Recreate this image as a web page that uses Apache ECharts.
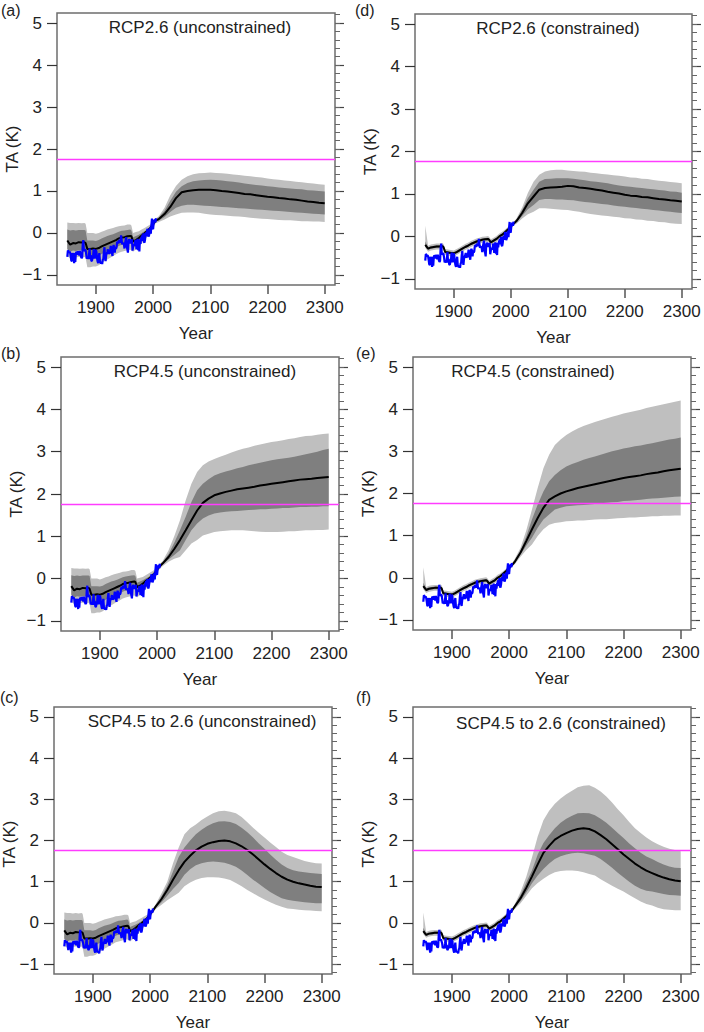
<!DOCTYPE html>
<html>
<head>
<meta charset="utf-8">
<title>TA projections</title>
<script src="https://cdn.jsdelivr.net/npm/echarts@6/dist/echarts.min.js"></script>
<style>
    html, body { margin: 0; padding: 0; background: #fff; }
    #main { width: 704px; height: 1032px; }
</style>
</head>
<body>
<div id="main"></div>
<script>
/* ---- data ---- */

/** observed record, one value per year from obsStart */
var obsStart = 1850;
var obsValues = [
    -0.57, -0.42, -0.43, -0.47, -0.45, -0.47, -0.56, -0.66, -0.67, -0.48,
    -0.54, -0.61, -0.72, -0.48, -0.69, -0.48, -0.45, -0.52, -0.44, -0.46,
    -0.48, -0.54, -0.43, -0.50, -0.57, -0.60, -0.58, -0.28, -0.17, -0.43,
    -0.43, -0.40, -0.41, -0.50, -0.61, -0.59, -0.57, -0.62, -0.51, -0.37,
    -0.62, -0.53, -0.66, -0.67, -0.61, -0.59, -0.39, -0.41, -0.61, -0.49,
    -0.40, -0.46, -0.60, -0.68, -0.72, -0.58, -0.48, -0.67, -0.71, -0.72,
    -0.69, -0.74, -0.64, -0.62, -0.44, -0.34, -0.58, -0.67, -0.53, -0.48,
    -0.45, -0.39, -0.50, -0.48, -0.49, -0.42, -0.31, -0.41, -0.41, -0.55,
    -0.34, -0.29, -0.34, -0.47, -0.33, -0.38, -0.35, -0.23, -0.21, -0.25,
    -0.19, -0.18, -0.23, -0.20, -0.06, -0.17, -0.27, -0.24, -0.24, -0.27,
    -0.37, -0.25, -0.17, -0.10, -0.33, -0.39, -0.47, -0.21, -0.15, -0.18,
    -0.25, -0.16, -0.19, -0.15, -0.42, -0.34, -0.27, -0.27, -0.31, -0.17,
    -0.23, -0.39, -0.27, -0.14, -0.41, -0.35, -0.44, -0.15, -0.26, -0.14,
    -0.11, -0.06, -0.19, -0.01, -0.21, -0.23, -0.15, -0.01, 0.00, -0.08,
    0.10, 0.05, -0.09, -0.05, 0.01, 0.13, -0.02, 0.19, 0.34, 0.11,
    0.09, 0.24, 0.30, 0.31, 0.25, 0.35
];

/** historical model period */
var histYears = [1850, 1855, 1860, 1865, 1870, 1875, 1880, 1882, 1885, 1890, 1895, 1900,
    1905, 1910, 1915, 1920, 1925, 1930, 1935, 1940, 1945, 1950, 1955, 1960, 1962, 1965,
    1970, 1975, 1980, 1985, 1990, 1995, 2000, 2005];

// unconstrained ensemble
var histUncMed  = [-0.18, -0.28, -0.24, -0.25, -0.22, -0.23, -0.22, -0.24, -0.38, -0.38, -0.37, -0.38, -0.36, -0.32, -0.29, -0.26, -0.23, -0.2, -0.17, -0.13, -0.11, -0.1, -0.08, -0.07, -0.08, -0.2, -0.17, -0.12, -0.06, -0.01, 0.05, 0.12, 0.21, 0.3];
var histUncHi90 = [0.25, 0.24, 0.24, 0.23, 0.24, 0.23, 0.24, 0.22, 0.0, 0.0, 0.0, -0.02, 0.0, 0.03, 0.05, 0.08, 0.1, 0.12, 0.14, 0.16, 0.17, 0.18, 0.2, 0.2, 0.18, 0.0, 0.02, 0.04, 0.08, 0.12, 0.16, 0.2, 0.27, 0.35];
var histUncHi66 = [0.08, 0.06, 0.07, 0.06, 0.07, 0.07, 0.07, 0.06, -0.18, -0.18, -0.18, -0.19, -0.17, -0.13, -0.1, -0.07, -0.05, -0.03, 0.0, 0.03, 0.05, 0.06, 0.07, 0.08, 0.06, -0.1, -0.07, -0.04, 0.0, 0.04, 0.08, 0.14, 0.23, 0.32];
var histUncLo66 = [-0.38, -0.45, -0.42, -0.43, -0.41, -0.42, -0.41, -0.43, -0.58, -0.58, -0.57, -0.58, -0.55, -0.5, -0.47, -0.44, -0.41, -0.38, -0.35, -0.31, -0.28, -0.27, -0.25, -0.23, -0.24, -0.34, -0.3, -0.25, -0.18, -0.11, -0.04, 0.04, 0.16, 0.27];
var histUncLo90 = [-0.55, -0.6, -0.58, -0.58, -0.57, -0.58, -0.57, -0.59, -0.82, -0.82, -0.8, -0.8, -0.77, -0.72, -0.67, -0.63, -0.59, -0.55, -0.51, -0.47, -0.45, -0.43, -0.41, -0.4, -0.41, -0.45, -0.39, -0.33, -0.25, -0.17, -0.09, 0.0, 0.13, 0.24];

// constrained ensemble
var histConMed  = [-0.2, -0.29, -0.26, -0.25, -0.24, -0.24, -0.23, -0.25, -0.37, -0.38, -0.39, -0.4, -0.37, -0.33, -0.29, -0.25, -0.22, -0.18, -0.15, -0.12, -0.1, -0.08, -0.07, -0.06, -0.08, -0.14, -0.1, -0.06, 0.0, 0.04, 0.1, 0.16, 0.23, 0.3];
var histConHi90 = [0.25, -0.22, -0.19, -0.18, -0.17, -0.17, -0.16, -0.18, -0.3, -0.31, -0.32, -0.33, -0.3, -0.26, -0.22, -0.18, -0.15, -0.11, -0.08, -0.05, -0.03, -0.01, 0.0, 0.01, -0.01, -0.07, -0.03, 0.01, 0.07, 0.11, 0.16, 0.22, 0.28, 0.34];
var histConHi66 = [-0.12, -0.26, -0.23, -0.22, -0.21, -0.21, -0.2, -0.22, -0.34, -0.35, -0.36, -0.37, -0.34, -0.3, -0.26, -0.22, -0.19, -0.15, -0.12, -0.09, -0.07, -0.05, -0.04, -0.03, -0.05, -0.11, -0.07, -0.03, 0.03, 0.07, 0.13, 0.19, 0.26, 0.32];
var histConLo66 = [-0.23, -0.32, -0.29, -0.28, -0.27, -0.27, -0.26, -0.28, -0.4, -0.41, -0.42, -0.43, -0.4, -0.36, -0.32, -0.28, -0.25, -0.21, -0.18, -0.15, -0.13, -0.11, -0.1, -0.09, -0.11, -0.17, -0.13, -0.09, -0.03, 0.01, 0.07, 0.13, 0.2, 0.28];
var histConLo90 = [-0.27, -0.36, -0.33, -0.32, -0.31, -0.31, -0.3, -0.32, -0.44, -0.45, -0.46, -0.47, -0.44, -0.4, -0.36, -0.32, -0.29, -0.25, -0.22, -0.19, -0.17, -0.15, -0.14, -0.13, -0.15, -0.21, -0.17, -0.13, -0.07, -0.03, 0.03, 0.09, 0.17, 0.26];

/** projection period */
var futYears = [2010, 2020, 2030, 2040, 2050, 2060, 2070, 2080, 2090, 2100,
    2110, 2120, 2130, 2140, 2150, 2160, 2170, 2180, 2190, 2200,
    2210, 2220, 2230, 2240, 2250, 2260, 2270, 2280, 2290, 2300];

// (a) RCP2.6 unconstrained
var aMed  = [0.33, 0.45, 0.62, 0.83, 0.97, 1.0, 1.02, 1.03, 1.03, 1.03, 1.02, 1.0, 0.99, 0.97, 0.95, 0.93, 0.92, 0.9, 0.88, 0.86, 0.85, 0.83, 0.82, 0.8, 0.79, 0.77, 0.75, 0.74, 0.72, 0.71];
var aHi90 = [0.4, 0.6, 0.9, 1.12, 1.27, 1.35, 1.4, 1.42, 1.43, 1.44, 1.43, 1.42, 1.41, 1.39, 1.38, 1.36, 1.35, 1.33, 1.32, 1.3, 1.28, 1.27, 1.25, 1.24, 1.22, 1.21, 1.19, 1.18, 1.16, 1.15];
var aHi66 = [0.37, 0.53, 0.77, 0.98, 1.11, 1.19, 1.23, 1.25, 1.26, 1.27, 1.26, 1.25, 1.23, 1.22, 1.2, 1.18, 1.16, 1.14, 1.13, 1.11, 1.1, 1.08, 1.07, 1.06, 1.05, 1.04, 1.02, 1.01, 1.0, 0.99];
var aLo66 = [0.29, 0.38, 0.5, 0.6, 0.65, 0.67, 0.67, 0.66, 0.65, 0.64, 0.63, 0.62, 0.61, 0.6, 0.59, 0.58, 0.57, 0.56, 0.55, 0.54, 0.53, 0.52, 0.51, 0.5, 0.49, 0.48, 0.47, 0.46, 0.45, 0.44];
var aLo90 = [0.26, 0.32, 0.39, 0.44, 0.48, 0.49, 0.49, 0.48, 0.46, 0.44, 0.43, 0.42, 0.41, 0.4, 0.39, 0.38, 0.36, 0.35, 0.34, 0.33, 0.32, 0.31, 0.3, 0.3, 0.29, 0.28, 0.28, 0.27, 0.27, 0.26];

// (b) RCP4.5 unconstrained
var bMed  = [0.36, 0.51, 0.7, 0.91, 1.14, 1.38, 1.61, 1.79, 1.89, 1.97, 2.01, 2.05, 2.08, 2.11, 2.13, 2.15, 2.17, 2.2, 2.22, 2.24, 2.26, 2.28, 2.3, 2.32, 2.34, 2.35, 2.36, 2.38, 2.39, 2.4];
var bHi90 = [0.42, 0.67, 1.0, 1.38, 1.85, 2.24, 2.52, 2.68, 2.77, 2.83, 2.88, 2.93, 2.98, 3.03, 3.07, 3.1, 3.14, 3.17, 3.2, 3.23, 3.25, 3.27, 3.3, 3.32, 3.35, 3.37, 3.38, 3.4, 3.42, 3.43];
var bHi66 = [0.39, 0.58, 0.85, 1.14, 1.46, 1.81, 2.09, 2.24, 2.35, 2.44, 2.49, 2.53, 2.57, 2.61, 2.64, 2.68, 2.71, 2.74, 2.77, 2.8, 2.82, 2.84, 2.86, 2.88, 2.91, 2.94, 2.97, 3.0, 3.04, 3.07];
var bLo66 = [0.33, 0.45, 0.56, 0.67, 0.91, 1.14, 1.3, 1.42, 1.49, 1.54, 1.56, 1.58, 1.59, 1.6, 1.61, 1.62, 1.63, 1.64, 1.64, 1.65, 1.66, 1.67, 1.67, 1.68, 1.69, 1.69, 1.7, 1.7, 1.71, 1.71];
var bLo90 = [0.3, 0.4, 0.47, 0.51, 0.67, 0.83, 0.91, 1.02, 1.06, 1.1, 1.12, 1.13, 1.14, 1.14, 1.14, 1.13, 1.12, 1.11, 1.1, 1.1, 1.1, 1.11, 1.12, 1.12, 1.13, 1.14, 1.14, 1.15, 1.15, 1.16];

// (c) SCP4.5 to 2.6 unconstrained
var cMed  = [0.4, 0.58, 0.8, 1.05, 1.28, 1.48, 1.63, 1.76, 1.85, 1.92, 1.96, 1.99, 2.0, 1.98, 1.93, 1.86, 1.77, 1.66, 1.54, 1.42, 1.31, 1.21, 1.12, 1.05, 1.0, 0.96, 0.93, 0.9, 0.88, 0.87];
var cHi90 = [0.46, 0.72, 1.0, 1.44, 1.83, 2.15, 2.3, 2.39, 2.5, 2.58, 2.66, 2.71, 2.72, 2.7, 2.66, 2.57, 2.44, 2.31, 2.19, 2.07, 1.95, 1.84, 1.73, 1.65, 1.6, 1.55, 1.5, 1.47, 1.45, 1.44];
var cHi66 = [0.43, 0.65, 0.9, 1.25, 1.6, 1.83, 2.0, 2.15, 2.26, 2.35, 2.42, 2.46, 2.47, 2.45, 2.4, 2.31, 2.2, 2.07, 1.93, 1.8, 1.66, 1.53, 1.42, 1.33, 1.28, 1.25, 1.23, 1.21, 1.2, 1.19];
var cLo66 = [0.37, 0.5, 0.66, 0.82, 0.97, 1.17, 1.3, 1.4, 1.45, 1.48, 1.49, 1.48, 1.46, 1.42, 1.36, 1.27, 1.16, 1.05, 0.95, 0.85, 0.75, 0.67, 0.6, 0.56, 0.54, 0.52, 0.5, 0.49, 0.48, 0.48];
var cLo90 = [0.34, 0.44, 0.55, 0.64, 0.73, 0.89, 0.98, 1.05, 1.09, 1.11, 1.11, 1.1, 1.08, 1.04, 0.97, 0.89, 0.8, 0.72, 0.64, 0.57, 0.5, 0.44, 0.39, 0.35, 0.34, 0.32, 0.31, 0.3, 0.29, 0.28];

// (d) RCP2.6 constrained
var dMed  = [0.36, 0.55, 0.78, 0.94, 1.1, 1.14, 1.15, 1.16, 1.17, 1.19, 1.18, 1.15, 1.14, 1.12, 1.1, 1.08, 1.05, 1.03, 1.01, 0.98, 0.96, 0.95, 0.93, 0.92, 0.9, 0.88, 0.87, 0.85, 0.84, 0.82];
var dHi90 = [0.42, 0.68, 1.02, 1.29, 1.45, 1.53, 1.56, 1.57, 1.57, 1.55, 1.54, 1.53, 1.52, 1.5, 1.49, 1.47, 1.46, 1.44, 1.43, 1.41, 1.39, 1.38, 1.36, 1.35, 1.33, 1.31, 1.3, 1.28, 1.27, 1.25];
var dHi66 = [0.39, 0.62, 0.9, 1.1, 1.29, 1.35, 1.36, 1.37, 1.37, 1.37, 1.36, 1.34, 1.32, 1.3, 1.29, 1.27, 1.25, 1.22, 1.2, 1.18, 1.17, 1.15, 1.14, 1.12, 1.11, 1.09, 1.08, 1.06, 1.05, 1.03];
var dLo66 = [0.33, 0.48, 0.64, 0.74, 0.86, 0.88, 0.88, 0.87, 0.87, 0.86, 0.85, 0.83, 0.81, 0.8, 0.78, 0.76, 0.75, 0.73, 0.71, 0.7, 0.68, 0.67, 0.65, 0.64, 0.62, 0.61, 0.59, 0.58, 0.56, 0.55];
var dLo90 = [0.3, 0.42, 0.52, 0.58, 0.66, 0.66, 0.65, 0.64, 0.63, 0.62, 0.6, 0.58, 0.55, 0.53, 0.51, 0.49, 0.48, 0.46, 0.45, 0.43, 0.42, 0.4, 0.39, 0.37, 0.36, 0.34, 0.33, 0.31, 0.3, 0.29];

// (e) RCP4.5 constrained
var eMed  = [0.38, 0.6, 0.87, 1.15, 1.42, 1.66, 1.85, 1.93, 2.0, 2.05, 2.09, 2.13, 2.16, 2.19, 2.22, 2.25, 2.28, 2.31, 2.34, 2.37, 2.39, 2.41, 2.43, 2.46, 2.48, 2.5, 2.53, 2.55, 2.57, 2.59];
var eHi90 = [0.45, 0.71, 1.12, 1.62, 2.13, 2.6, 2.92, 3.15, 3.28, 3.39, 3.47, 3.54, 3.6, 3.65, 3.7, 3.74, 3.78, 3.82, 3.86, 3.9, 3.93, 3.96, 3.99, 4.03, 4.06, 4.09, 4.12, 4.15, 4.18, 4.21];
var eHi66 = [0.41, 0.65, 0.98, 1.38, 1.74, 2.05, 2.29, 2.44, 2.55, 2.64, 2.7, 2.75, 2.8, 2.84, 2.88, 2.92, 2.96, 3.0, 3.03, 3.07, 3.09, 3.12, 3.14, 3.17, 3.19, 3.22, 3.25, 3.28, 3.3, 3.33];
var eLo66 = [0.35, 0.55, 0.76, 0.95, 1.19, 1.38, 1.5, 1.62, 1.66, 1.7, 1.71, 1.72, 1.73, 1.74, 1.75, 1.77, 1.78, 1.79, 1.8, 1.82, 1.83, 1.84, 1.85, 1.87, 1.88, 1.89, 1.9, 1.91, 1.92, 1.93];
var eLo90 = [0.32, 0.5, 0.66, 0.79, 0.99, 1.15, 1.26, 1.3, 1.32, 1.34, 1.35, 1.36, 1.36, 1.37, 1.38, 1.39, 1.39, 1.4, 1.41, 1.42, 1.43, 1.43, 1.44, 1.45, 1.46, 1.46, 1.47, 1.47, 1.48, 1.48];

// (f) SCP4.5 to 2.6 constrained
var fMed  = [0.4, 0.6, 0.85, 1.13, 1.42, 1.7, 1.87, 2.02, 2.11, 2.18, 2.24, 2.28, 2.3, 2.28, 2.22, 2.13, 2.03, 1.91, 1.79, 1.66, 1.55, 1.44, 1.35, 1.27, 1.21, 1.15, 1.1, 1.06, 1.03, 1.01];
var fHi90 = [0.46, 0.75, 1.12, 1.59, 2.1, 2.49, 2.72, 2.89, 3.02, 3.12, 3.21, 3.29, 3.33, 3.34, 3.28, 3.19, 3.07, 2.92, 2.76, 2.61, 2.45, 2.3, 2.18, 2.07, 1.98, 1.91, 1.85, 1.8, 1.77, 1.74];
var fHi66 = [0.43, 0.68, 0.98, 1.27, 1.66, 1.94, 2.13, 2.3, 2.43, 2.53, 2.6, 2.66, 2.67, 2.66, 2.61, 2.53, 2.43, 2.31, 2.18, 2.06, 1.93, 1.81, 1.7, 1.61, 1.55, 1.48, 1.42, 1.37, 1.34, 1.33];
var fLo66 = [0.37, 0.53, 0.74, 0.96, 1.15, 1.31, 1.44, 1.55, 1.62, 1.66, 1.69, 1.7, 1.69, 1.66, 1.63, 1.55, 1.45, 1.34, 1.22, 1.11, 1.0, 0.9, 0.83, 0.78, 0.76, 0.73, 0.7, 0.68, 0.67, 0.66];
var fLo90 = [0.34, 0.48, 0.66, 0.84, 0.97, 1.07, 1.16, 1.23, 1.26, 1.27, 1.27, 1.26, 1.23, 1.19, 1.15, 1.06, 0.98, 0.9, 0.83, 0.76, 0.68, 0.6, 0.52, 0.46, 0.42, 0.37, 0.33, 0.32, 0.31, 0.31];

/** threshold line */
var threshold = 1.76;

/** axis ticks */
var xTicks = [1900, 2000, 2100, 2200, 2300];
var yTicks = [-1, 0, 1, 2, 3, 4, 5];

var titles  = ['RCP2.6 (unconstrained)', 'RCP4.5 (unconstrained)', 'SCP4.5 to 2.6 (unconstrained)',
               'RCP2.6 (constrained)', 'RCP4.5 (constrained)', 'SCP4.5 to 2.6 (constrained)'];
var letters = ['(a)', '(b)', '(c)', '(d)', '(e)', '(f)'];

/* ---- layout ---- */
var FONT = '"Liberation Sans", Arial, Helvetica, sans-serif';
var FS = 17;
var LIGHT = '#bfbfbf';
var DARK = '#7f7f7f';

// plot frames, in page pixels
var frames = [
    { left: 57,  top: 13,  width: 278, height: 272 },
    { left: 61,  top: 357, width: 278, height: 274 },
    { left: 54,  top: 707, width: 278, height: 274 },
    { left: 415, top: 14,  width: 277, height: 275 },
    { left: 413, top: 357, width: 278, height: 273 },
    { left: 413, top: 707, width: 278, height: 274 }
];
// title centre, letter position
var titlePos  = [[200, 27], [205, 371], [202, 721], [558, 28], [533, 371], [561, 723]];
var letterPos = [[1, 10], [1, 353], [0, 697], [355, 10], [356, 353], [356, 697]];

var panels = [
    { hist: 'unc', med: aMed, hi90: aHi90, hi66: aHi66, lo66: aLo66, lo90: aLo90 },
    { hist: 'unc', med: bMed, hi90: bHi90, hi66: bHi66, lo66: bLo66, lo90: bLo90 },
    { hist: 'unc', med: cMed, hi90: cHi90, hi66: cHi66, lo66: cLo66, lo90: cLo90 },
    { hist: 'con', med: dMed, hi90: dHi90, hi66: dHi66, lo66: dLo66, lo90: dLo90 },
    { hist: 'con', med: eMed, hi90: eHi90, hi66: eHi66, lo66: eLo66, lo90: eLo90 },
    { hist: 'con', med: fMed, hi90: fHi90, hi66: fHi66, lo66: fLo66, lo90: fLo90 }
];
var histSets = {
    unc: { med: histUncMed, hi90: histUncHi90, hi66: histUncHi66, lo66: histUncLo66, lo90: histUncLo90 },
    con: { med: histConMed, hi90: histConHi90, hi66: histConHi66, lo66: histConLo66, lo90: histConLo90 }
};

var yMinorTicks = [];
for (var k = -6; k <= 26; k++) {
    yMinorTicks.push(Math.round(k * 2) / 10);
}

function pairs(xs, ys) {
    var out = [];
    for (var i = 0; i < xs.length; i++) {
        out.push([xs[i], ys[i]]);
    }
    return out;
}

/** filled band between lo and hi, drawn through the axis scales */
function bandSeries(idx, xs, lo, hi, color) {
    return {
        type: 'custom',
        xAxisIndex: idx,
        yAxisIndex: idx * 3,
        silent: true,
        z: 1,
        data: [[xs[0], lo[0]]],
        renderItem: function (params, api) {
            var pts = [], j;
            for (j = 0; j < xs.length; j++) {
                pts.push(api.coord([xs[j], hi[j]]));
            }
            for (j = xs.length - 1; j >= 0; j--) {
                pts.push(api.coord([xs[j], lo[j]]));
            }
            return { type: 'polygon', shape: { points: pts }, style: { fill: color, stroke: null } };
        }
    };
}

function yLabel(v) {
    return v < 0 ? '\u2212' + (-v) : String(v);
}
function xLabel(v) {
    return String(v);
}

var obsData = [];
for (var n = 0; n < obsValues.length; n++) {
    obsData.push([obsStart + n, obsValues[n]]);
}

var allYears = histYears.concat(futYears);
var grid = [], xAxis = [], yAxis = [], series = [], texts = [];

for (var i = 0; i < panels.length; i++) {
    var p = panels[i];
    var h = histSets[p.hist];
    var f = frames[i];

    grid.push({
        left: f.left, top: f.top, width: f.width, height: f.height,
        show: true, borderColor: '#6e6e6e', borderWidth: 1.5, backgroundColor: 'transparent'
    });

    xAxis.push({
        gridIndex: i, type: 'value', min: 1832, max: 2318, position: 'bottom',
        axisLine: { show: false, onZero: false },
        axisTick: { show: true, customValues: xTicks, length: 9, lineStyle: { color: '#555', width: 1.5 } },
        axisLabel: { customValues: xTicks, margin: 14, color: '#222', fontSize: FS, fontFamily: FONT, formatter: xLabel },
        splitLine: { show: false },
        name: 'Year', nameLocation: 'middle', nameGap: 40,
        nameTextStyle: { color: '#222', fontSize: FS, fontFamily: FONT }
    });

    yAxis.push({
        gridIndex: i, type: 'value', min: -1.24, max: 5.24, position: 'left',
        axisLine: { show: false, onZero: false },
        axisTick: { show: true, customValues: yTicks, length: 10, lineStyle: { color: '#333', width: 1.2 } },
        axisLabel: { customValues: yTicks, margin: 15, color: '#222', fontSize: FS, fontFamily: FONT, formatter: yLabel },
        splitLine: { show: false }
    });
    yAxis.push({
        gridIndex: i, type: 'value', min: -1.24, max: 5.24, position: 'right',
        axisLine: { show: false, onZero: false },
        axisTick: { show: true, customValues: yTicks, length: 9, lineStyle: { color: '#444', width: 1.2 } },
        axisLabel: { show: false },
        splitLine: { show: false }
    });
    yAxis.push({
        gridIndex: i, type: 'value', min: -1.24, max: 5.24, position: 'right',
        axisLine: { show: false, onZero: false },
        axisTick: { show: true, customValues: yMinorTicks, length: 5, lineStyle: { color: '#666', width: 1 } },
        axisLabel: { show: false },
        splitLine: { show: false }
    });

    series.push(bandSeries(i, allYears, h.lo90.concat(p.lo90), h.hi90.concat(p.hi90), LIGHT));
    series.push(bandSeries(i, allYears, h.lo66.concat(p.lo66), h.hi66.concat(p.hi66), DARK));

    series.push({
        type: 'line', xAxisIndex: i, yAxisIndex: i * 3, z: 3,
        data: pairs(allYears, h.med.concat(p.med)),
        showSymbol: false, symbol: 'none', silent: true,
        lineStyle: { color: '#000', width: 2 }
    });

    series.push({
        type: 'line', xAxisIndex: i, yAxisIndex: i * 3, z: 4,
        data: obsData,
        showSymbol: false, symbol: 'none', silent: true,
        lineStyle: { color: '#0000ff', width: 2.2 },
        markLine: {
            silent: true, symbol: 'none', animation: false,
            label: { show: false },
            lineStyle: { color: '#ff3cff', width: 1.3, type: 'solid' },
            data: [{ yAxis: threshold }]
        }
    });

    texts.push({
        type: 'text', x: titlePos[i][0], y: titlePos[i][1], silent: true,
        style: { text: titles[i], font: FS + 'px ' + FONT, fill: '#222', textAlign: 'center', textVerticalAlign: 'middle' }
    });
    texts.push({
        type: 'text', x: letterPos[i][0], y: letterPos[i][1], silent: true,
        style: { text: letters[i], font: '16px ' + FONT, fill: '#222', textAlign: 'left', textVerticalAlign: 'middle' }
    });
    texts.push({
        type: 'text', x: f.left - 45, y: f.top + f.height / 2, rotation: Math.PI / 2, silent: true,
        style: { text: 'TA (K)', font: FS + 'px ' + FONT, fill: '#222', textAlign: 'center', textVerticalAlign: 'middle' }
    });
}

var chart = echarts.init(document.getElementById('main'), null, { renderer: 'svg' });
chart.setOption({
    animation: false,
    backgroundColor: '#fff',
    grid: grid,
    xAxis: xAxis,
    yAxis: yAxis,
    series: series,
    graphic: { elements: texts }
});
</script>
</body>
</html>
